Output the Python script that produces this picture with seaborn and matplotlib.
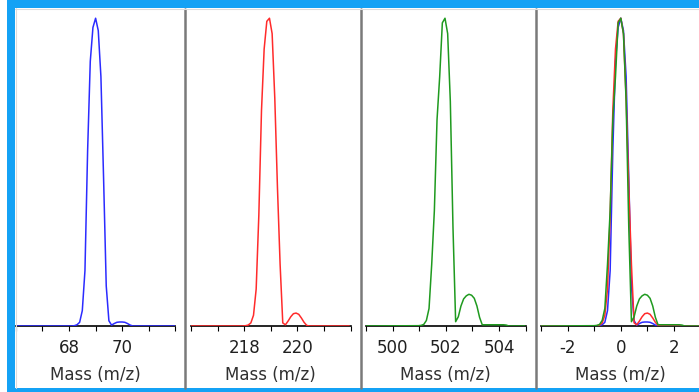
import matplotlib
matplotlib.use("Agg")
import matplotlib.pyplot as plt
from matplotlib.patches import Rectangle
from matplotlib.lines import Line2D
import pandas as pd
import seaborn as sns

# peak profile offsets (m/z from the monoisotopic peak)
offsets = [-3.0, -1.0, -0.9, -0.8, -0.7, -0.6, -0.5, -0.4, -0.3, -0.2, -0.1,
           0.0, 0.1, 0.2, 0.3, 0.4, 0.5, 0.6, 0.7, 0.8, 0.9, 1.0, 1.1, 1.2,
           1.3, 1.4, 1.5, 1.6, 1.7, 1.8, 1.9, 2.0, 2.1, 2.2, 2.3, 2.4, 3.0]

blue_int = [0, 0, 0, 0.001, 0.004, 0.012, 0.05, 0.18, 0.57, 0.86, 0.97,
            1.0, 0.96, 0.81, 0.48, 0.13, 0.017, 0.003, 0.008, 0.012, 0.013, 0.013, 0.012, 0.008,
            0.003, 0, 0, 0, 0, 0, 0, 0, 0, 0, 0, 0, 0]
red_int = [0, 0, 0.001, 0.003, 0.01, 0.035, 0.12, 0.36, 0.70, 0.90, 0.99,
           1.0, 0.95, 0.74, 0.45, 0.20, 0.01, 0.004, 0.016, 0.03, 0.04, 0.042, 0.038, 0.026,
           0.012, 0.002, 0, 0, 0, 0, 0, 0, 0, 0, 0, 0, 0]
green_int = [0, 0.001, 0.002, 0.005, 0.018, 0.057, 0.20, 0.375, 0.67, 0.81, 0.985,
             1.0, 0.95, 0.73, 0.32, 0.014, 0.03, 0.065, 0.088, 0.098, 0.103, 0.10, 0.09, 0.065,
             0.028, 0.004, 0.004, 0.004, 0.004, 0.004, 0.004, 0.004, 0.004, 0.004, 0.003, 0, 0]

peak_centers = [69.0, 218.95, 501.97]
series_names = ["blue", "red", "green"]
series_colors = ["#2b2bff", "#ff2b2b", "#1f9a1f"]

x_ranges = [(66, 72), (216, 222), (499, 505), (-3, 3)]
tick_labels = [[68, 70], [218, 220], [500, 502, 504], [-2, 0, 2]]
axis_title = "Mass (m/z)"

W, H = 699, 392
frame_blue = "#14a2f5"

plt.rcParams["axes.unicode_minus"] = False
sns.set_style("white")
plt.rcParams["font.family"] = ["DejaVu Sans"]

fig = plt.figure(figsize=(W / 100, H / 100), dpi=100)
fig.patch.set_facecolor("white")

frames = []
for name, ints, c in zip(series_names, [blue_int, red_int, green_int], peak_centers):
    frames.append(pd.DataFrame({"series": name, "offset": offsets, "intensity": ints,
                                "mass": [c + o for o in offsets]}))
df = pd.concat(frames, ignore_index=True)

ax_left = [15.8, 191, 366, 541]
ax_w = 159.6
ax_bottom, ax_top = 326, 9

for i in range(4):
    ax = fig.add_axes([ax_left[i] / W, (H - ax_bottom) / H, ax_w / W, (ax_bottom - ax_top) / H])
    ax.set_facecolor("none")
    if i < 3:
        sub = df[df["series"] == series_names[i]]
        sns.lineplot(data=sub, x="mass", y="intensity", ax=ax, color=series_colors[i],
                     lw=1.1, estimator=None, sort=False)
    else:
        # overlay of the three normalised profiles
        for j, name in enumerate(series_names):
            sub = df[df["series"] == name]
            sns.lineplot(data=sub, x="offset", y="intensity", ax=ax, color=series_colors[j],
                         lw=1.1, estimator=None, sort=False)
    lo, hi = x_ranges[i]
    ax.set_xlim(lo, hi)
    ax.set_ylim(0, 1.03)
    ax.set_xticks(tick_labels[i])
    ax.set_xticklabels([str(t) for t in tick_labels[i]])
    ax.set_xticks(list(range(lo, hi + 1)), minor=True)
    ax.tick_params(axis="x", which="both", direction="out", length=3.6, width=0.8,
                   color="black", bottom=True)
    ax.tick_params(axis="x", which="major", labelsize=12, labelcolor="#202020", pad=5.5)
    ax.set_yticks([])
    ax.set_ylabel("")
    ax.set_xlabel(axis_title, fontsize=12, color="#303030", labelpad=6.5)
    for s in ["top", "left", "right"]:
        ax.spines[s].set_visible(False)
    ax.spines["bottom"].set_color("black")
    ax.spines["bottom"].set_linewidth(1.2)
    ax.spines["bottom"].set_zorder(1)
    for ln in ax.lines:
        ln.set_zorder(3)

# panel separators
for xs in [185, 361, 536]:
    fig.add_artist(Line2D([xs / W, xs / W], [(H - 388) / H, (H - 9) / H], color="#7a7a7a", lw=1.8))

# blue frame with thin grey inner edge
fig.add_artist(Rectangle((7 / W, (H - 8) / H), (W - 7) / W, 8 / H, transform=fig.transFigure,
                         color=frame_blue, lw=0))
fig.add_artist(Rectangle((7 / W, 0), 8 / W, 1, transform=fig.transFigure, color=frame_blue, lw=0))
fig.add_artist(Rectangle((7 / W, 0), (W - 7) / W, 4 / H, transform=fig.transFigure,
                         color=frame_blue, lw=0))
fig.add_artist(Line2D([15 / W, 1], [(H - 8.6) / H, (H - 8.6) / H], color="#dcdcdc", lw=0.8))
fig.add_artist(Line2D([15.6 / W, 15.6 / W], [4 / H, (H - 8) / H], color="#dcdcdc", lw=0.8))

fig.savefig("out.png", dpi=100, facecolor="white")
